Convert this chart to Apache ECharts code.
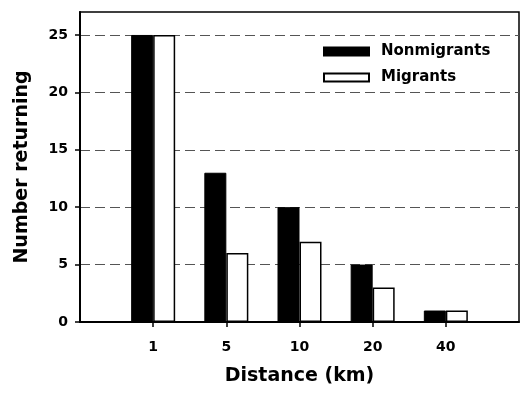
<!DOCTYPE html>
<html>
<head>
<meta charset="utf-8">
<script src="https://cdn.jsdelivr.net/npm/echarts@6/dist/echarts.min.js"></script>
<style>
  html, body { margin: 0; padding: 0; background: #fff; }
  #chart { width: 522px; height: 393px; }
</style>
</head>
<body>
<div id="chart"></div>
<script>
// empty slots at both ends leave the margins seen in the figure
var distances = ['', '1', '5', '10', '20', '40', '']
var nonmigrants = [null, 25, 13, 10, 5, 1, null]
var migrants = [null, 25, 6, 7, 3, 1, null]
var yTicks = [0, 5, 10, 15, 20, 25]

var font = 'DejaVu Sans'
var myChart = echarts.init(document.getElementById('chart'))

var option = {
  animation: false,
  backgroundColor: '#fff',
  grid: {
    left: 80,
    right: 2,
    top: 12,
    bottom: 71,
    show: true,
    borderColor: '#000',
    borderWidth: 1.5
  },
  legend: {
    orient: 'vertical',
    left: 318,
    top: 39,
    icon: 'rect',
    itemWidth: 45,
    itemHeight: 8,
    itemGap: 11,
    textStyle: {
      fontFamily: font,
      fontWeight: 'bold',
      fontSize: 15,
      color: '#000',
      padding: [0, 0, 0, 7]
    },
    data: ['Nonmigrants', 'Migrants']
  },
  xAxis: {
    type: 'category',
    data: distances,
    boundaryGap: false,
    name: 'Distance (km)',
    nameLocation: 'middle',
    nameGap: 45,
    nameTextStyle: { fontFamily: font, fontWeight: 'bold', fontSize: 19, color: '#000' },
    axisLine: { lineStyle: { color: '#000', width: 2 } },
    axisTick: {
      length: 5,
      lineStyle: { color: '#000', width: 1.5 },
      interval: function (index) { return index > 0 && index < distances.length - 1 }
    },
    axisLabel: {
      margin: 18,
      interval: 0,
      fontFamily: font,
      fontWeight: 'bold',
      fontSize: 14,
      color: '#000'
    },
    splitLine: { show: false }
  },
  yAxis: {
    type: 'value',
    min: 0,
    max: 27,
    interval: 5,
    name: 'Number returning',
    nameLocation: 'middle',
    nameGap: 48,
    nameTextStyle: { fontFamily: font, fontWeight: 'bold', fontSize: 19, color: '#000' },
    axisLine: { show: true, lineStyle: { color: '#000', width: 2 } },
    axisTick: {
      show: true,
      length: 5,
      customValues: yTicks,
      lineStyle: { color: '#000', width: 1.5 }
    },
    axisLabel: {
      margin: 12,
      customValues: yTicks,
      fontFamily: font,
      fontWeight: 'bold',
      fontSize: 14,
      color: '#000'
    },
    splitLine: {
      show: true,
      lineStyle: { color: '#555', width: 1, type: [10, 5] }
    }
  },
  series: [
    {
      name: 'Nonmigrants',
      type: 'bar',
      data: nonmigrants,
      barWidth: 22,
      barGap: '0%',
      itemStyle: { color: '#000', borderColor: '#000', borderWidth: 1 }
    },
    {
      name: 'Migrants',
      type: 'bar',
      data: migrants,
      barWidth: 22,
      barGap: '0%',
      itemStyle: { color: '#fff', borderColor: '#000', borderWidth: 1.5 }
    }
  ]
}
myChart.setOption(option)
</script>
</body>
</html>
